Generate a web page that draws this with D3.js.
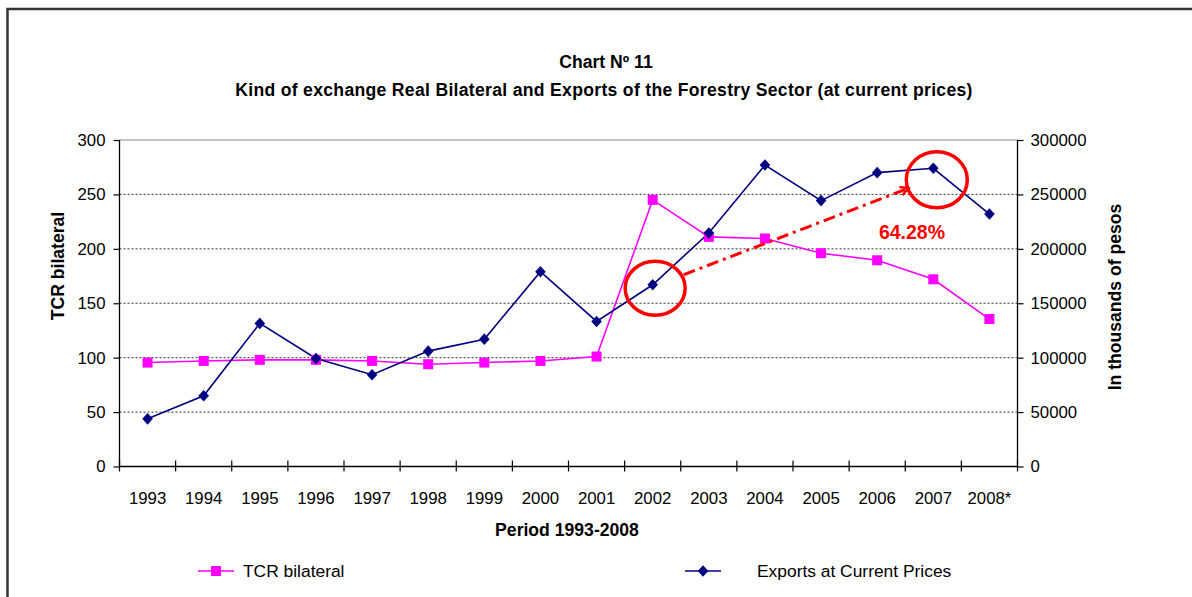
<!DOCTYPE html>
<html>
<head>
<meta charset="utf-8">
<script src="https://cdn.jsdelivr.net/npm/d3@7"></script>
<style>
	body { margin: 0; background: #fff; }
	svg { display: block; font-family: 'Liberation Sans', Arial, sans-serif; }
	.tick text { font-size: 16.8px; fill: #000; }
	.bold { font-weight: bold; font-size: 17.6px; }
</style>
</head>
<body>
<svg id="chart" width="1192" height="597"></svg>
<script>
const years = ['1993', '1994', '1995', '1996', '1997', '1998', '1999', '2000',
	'2001', '2002', '2003', '2004', '2005', '2006', '2007', '2008*'];

// TCR bilateral (left axis)
const tcr = [95.5, 97, 98, 98, 97, 94, 95.5, 97, 101, 245, 211, 209.5, 196, 189.5, 172, 135.5];

// exports, thousands of pesos (right axis)
const exportsCP = [43800, 65000, 131500, 99300, 84300, 106000, 117000, 179000,
	133300, 167000, 214500, 277000, 244300, 270000, 274000, 232000];

const leftTicks = [0, 50, 100, 150, 200, 250, 300];
const rightTicks = [0, 50000, 100000, 150000, 200000, 250000, 300000];

const growthLabel = '64.28%';

const svg = d3.select('#chart');

const plot = { left: 119.5, right: 1017.5, top: 140, bottom: 466.5 };

const x = d3.scaleBand().domain(years).range([plot.left, plot.right]);
const yL = d3.scaleLinear().domain([0, 300]).range([plot.bottom, plot.top]);
const yR = d3.scaleLinear().domain([0, 300000]).range([plot.bottom, plot.top]);
const cx = d => x(d) + x.bandwidth() / 2;

// outer frame (top and left edge only visible)
svg.append('path')
	.attr('d', 'M7.5,600 L7.5,9 L1195,9')
	.attr('fill', 'none')
	.attr('stroke', '#333')
	.attr('stroke-width', 2.5);

// titles
svg.append('text').attr('class', 'bold')
	.attr('x', 606).attr('y', 68).attr('text-anchor', 'middle')
	.text('Chart Nº 11');
svg.append('text').attr('class', 'bold')
	.attr('x', 604).attr('y', 96).attr('text-anchor', 'middle')
	.attr('letter-spacing', '0.3px')
	.text('Kind of exchange Real Bilateral and Exports of the Forestry Sector (at current prices)');

// gridlines
svg.append('g')
	.selectAll('line')
	.data(leftTicks.filter(t => t > 0 && t < 300))
	.enter()
	.append('line')
	.attr('x1', plot.left).attr('x2', plot.right)
	.attr('y1', d => yL(d)).attr('y2', d => yL(d))
	.attr('stroke', '#333')
	.attr('stroke-width', 1)
	.attr('stroke-dasharray', '2,2');

svg.append('line')
	.attr('x1', plot.left).attr('x2', plot.right)
	.attr('y1', yL(300)).attr('y2', yL(300))
	.attr('stroke', '#888')
	.attr('stroke-width', 1.2);

// axes
const gL = svg.append('g')
	.attr('transform', `translate(${plot.left},0)`)
	.call(d3.axisLeft(yL).tickValues(leftTicks).tickSize(6).tickPadding(8));
const gR = svg.append('g')
	.attr('transform', `translate(${plot.right},0)`)
	.call(d3.axisRight(yR).tickValues(rightTicks).tickSize(6).tickPadding(7).tickFormat(d3.format('d')));
const gX = svg.append('g')
	.attr('transform', `translate(0,${plot.bottom})`)
	.call(d3.axisBottom(x).tickSize(0).tickPadding(26));

[gL, gR, gX].forEach(g => {
	g.select('.domain').attr('stroke', '#000').attr('stroke-width', 1.3);
	g.selectAll('.tick line').attr('stroke', '#000').attr('stroke-width', 1.2);
	g.selectAll('.tick text').attr('font-family', null).attr('font-size', null);
});
gL.select('.domain').attr('d', `M0,${plot.top}V${plot.bottom}`);
gR.select('.domain').attr('d', `M0,${plot.top}V${plot.bottom}`);
gX.select('.domain').attr('d', `M${plot.left},0H${plot.right}`);

// category boundary ticks on x axis
gX.append('g')
	.selectAll('line')
	.data(years.concat(['end']))
	.enter()
	.append('line')
	.attr('x1', (d, i) => plot.left + i * x.bandwidth())
	.attr('x2', (d, i) => plot.left + i * x.bandwidth())
	.attr('y1', -6).attr('y2', 5)
	.attr('stroke', '#000')
	.attr('stroke-width', 1.2);

// axis titles
svg.append('text').attr('class', 'bold')
	.attr('transform', 'translate(64,266) rotate(-90)')
	.attr('text-anchor', 'middle')
	.text('TCR bilateral');
svg.append('text').attr('class', 'bold')
	.attr('transform', 'translate(1121,297) rotate(-90)')
	.attr('text-anchor', 'middle')
	.text('In thousands of pesos');
svg.append('text').attr('class', 'bold')
	.attr('x', 567).attr('y', 536).attr('text-anchor', 'middle')
	.text('Period 1993-2008');

// series
const lineT = d3.line().x((d, i) => cx(years[i])).y(d => yL(d));
const lineE = d3.line().x((d, i) => cx(years[i])).y(d => yR(d));

svg.append('path')
	.attr('d', lineT(tcr))
	.attr('fill', 'none')
	.attr('stroke', '#ff00ff')
	.attr('stroke-width', 1.6);
svg.append('path')
	.attr('d', lineE(exportsCP))
	.attr('fill', 'none')
	.attr('stroke', '#000080')
	.attr('stroke-width', 1.6);

svg.append('g')
	.selectAll('rect')
	.data(tcr)
	.enter()
	.append('rect')
	.attr('x', (d, i) => cx(years[i]) - 5)
	.attr('y', d => yL(d) - 5)
	.attr('width', 10).attr('height', 10)
	.attr('fill', '#ff00ff');

const diamond = 'M0,-5.8L5.3,0L0,5.8L-5.3,0Z';
svg.append('g')
	.selectAll('path')
	.data(exportsCP)
	.enter()
	.append('path')
	.attr('d', diamond)
	.attr('transform', (d, i) => `translate(${cx(years[i])},${yR(d)})`)
	.attr('fill', '#000080');

// annotation: circles, arrow, growth label
const i02 = years.indexOf('2002');
const i07 = years.indexOf('2007');
const p02 = [cx(years[i02]), yR(exportsCP[i02])];
const p07 = [cx(years[i07]), yR(exportsCP[i07])];

svg.append('ellipse')
	.attr('cx', p02[0] + 2.5).attr('cy', p02[1] + 3.5)
	.attr('rx', 30).attr('ry', 27)
	.attr('fill', 'none').attr('stroke', '#ff0000').attr('stroke-width', 3.5);
svg.append('ellipse')
	.attr('cx', p07[0] + 3.5).attr('cy', p07[1] + 11.5)
	.attr('rx', 30.5).attr('ry', 28)
	.attr('fill', 'none').attr('stroke', '#ff0000').attr('stroke-width', 3.5);

const a0 = [p02[0] + 31, p02[1] - 10];
const a1 = [p07[0] - 25, p07[1] + 20];
svg.append('line')
	.attr('x1', a0[0]).attr('y1', a0[1])
	.attr('x2', a1[0]).attr('y2', a1[1])
	.attr('stroke', '#ff0000')
	.attr('stroke-width', 3)
	.attr('stroke-dasharray', '12,5,3,5');
const ang = Math.atan2(a1[1] - a0[1], a1[0] - a0[0]);
const head = 9;
svg.append('path')
	.attr('d', `M${a1[0] - head * Math.cos(ang - 0.5)},${a1[1] - head * Math.sin(ang - 0.5)}L${a1[0]},${a1[1]}L${a1[0] - head * Math.cos(ang + 0.5)},${a1[1] - head * Math.sin(ang + 0.5)}`)
	.attr('fill', 'none')
	.attr('stroke', '#ff0000')
	.attr('stroke-width', 2.5);

svg.append('text')
	.attr('x', 912).attr('y', 239)
	.attr('text-anchor', 'middle')
	.attr('font-weight', 'bold')
	.attr('font-size', '19.5px')
	.attr('fill', '#ff0000')
	.text(growthLabel);

// legend
const legend = [
	{ name: 'TCR bilateral', color: '#ff00ff', mark: 'square', x0: 198, tx: 243 },
	{ name: 'Exports at Current Prices', color: '#000080', mark: 'diamond', x0: 685, tx: 757 }
];
const lg = svg.append('g').selectAll('g').data(legend).enter().append('g')
	.attr('transform', d => `translate(${d.x0},571)`);
lg.append('line')
	.attr('x1', 0).attr('x2', 36)
	.attr('stroke', d => d.color)
	.attr('stroke-width', 1.6);
lg.append('path')
	.attr('d', d => d.mark === 'square'
		? d3.symbol().type(d3.symbolSquare).size(100)()
		: diamond)
	.attr('transform', 'translate(18,0)')
	.attr('fill', d => d.color);
lg.append('text')
	.attr('x', d => d.tx - d.x0).attr('y', 6)
	.attr('font-size', '17.4px')
	.text(d => d.name);
</script>
</body>
</html>
